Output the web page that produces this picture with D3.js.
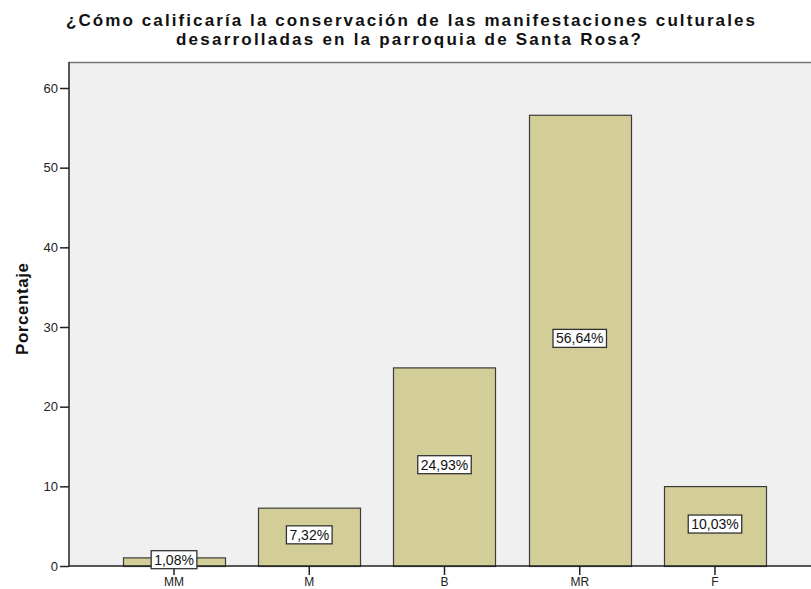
<!DOCTYPE html>
<html><head><meta charset="utf-8">
<script src="https://cdn.jsdelivr.net/npm/d3@7"></script>
<style>body{margin:0;background:#fff;}svg{display:block;font-family:"Liberation Sans",Arial,sans-serif;}</style>
</head><body>
<svg id="c" width="811" height="589"></svg>
<script>
const categories = ["MM","M","B","MR","F"];
const values = [1.08, 7.32, 24.93, 56.64, 10.03];
const valueLabels = ["1,08%","7,32%","24,93%","56,64%","10,03%"];
const yTicks = [0,10,20,30,40,50,60];
const titleLines = ["¿Cómo calificaría la conservación de las manifestaciones culturales","desarrolladas en la parroquia de Santa Rosa?"];
const yTitle = "Porcentaje";

const svg = d3.select("#c");
const plotL = 69, plotT = 62, plotR = 812, plotB = 566;
const x = d3.scaleBand().domain(categories).range([106.4, 782.6]).paddingInner(0.245).paddingOuter(0.1225);
const y = d3.scaleLinear().domain([0,60]).range([566, 88]);

svg.append("rect").attr("x",plotL).attr("y",plotT).attr("width",plotR-plotL).attr("height",plotB-plotT).attr("fill","#f0f0f0");
svg.append("line").attr("x1",plotL).attr("x2",plotR).attr("y1",plotT+0.5).attr("y2",plotT+0.5).attr("stroke","#777").attr("stroke-width",1.5);

// bars
svg.selectAll("rect.bar").data(values).enter().append("rect").attr("class","bar")
  .attr("x",(d,i)=>Math.round(x(categories[i]))+0.5)
  .attr("y",d=>y(d)+0.5)
  .attr("width",Math.round(x.bandwidth()))
  .attr("height",d=>y(0)-y(d))
  .attr("fill","#d3ce97").attr("stroke","#3c3c3c").attr("stroke-width",1.2);

// axes
const yAxis = d3.axisLeft(y).tickValues(yTicks).tickSize(9).tickPadding(2).tickFormat(d3.format("d"));
const gy = svg.append("g").attr("transform",`translate(${plotL},0)`).call(yAxis);
gy.select(".domain").attr("d",`M0,${plotT}V${plotB}`).attr("stroke","#222").attr("stroke-width",1.5);
gy.selectAll(".tick line").attr("stroke","#222").attr("stroke-width",1.5);
gy.selectAll(".tick text").attr("font-size",13).attr("fill","#222").attr("font-family","Liberation Sans, Arial, sans-serif");

const xAxis = d3.axisBottom(x).tickSize(9).tickPadding(0);
const gx = svg.append("g").attr("transform",`translate(0,${plotB})`).call(xAxis);
gx.select(".domain").attr("d",`M${plotL},0H${plotR}`).attr("stroke","#222").attr("stroke-width",1.5);
gx.selectAll(".tick line").attr("stroke","#222").attr("stroke-width",1.5);
gx.selectAll(".tick text").attr("font-size",12).attr("fill","#222").attr("dy",null).attr("y",20).attr("font-family","Liberation Sans, Arial, sans-serif");

// value labels
const lg = svg.selectAll("g.lbl").data(values).enter().append("g").attr("class","lbl")
  .attr("transform",(d,i)=>`translate(${x(categories[i])+x.bandwidth()/2},${(y(d)+y(0))/2 - 2})`);
lg.append("text").text((d,i)=>valueLabels[i]).attr("text-anchor","middle").attr("dy","0.36em")
  .attr("font-size",14).attr("fill","#111");
lg.each(function(){
  const g=d3.select(this); const t=g.select("text").node().getBBox();
  g.insert("rect","text").attr("x",t.x-3).attr("y",-9).attr("width",t.width+6).attr("height",18)
   .attr("fill","#fff").attr("stroke","#333").attr("stroke-width",1.3);
});

// titles
svg.append("text").attr("x",410.5).attr("y",25.5).attr("text-anchor","middle").attr("font-size",17).attr("font-weight","bold").attr("fill","#111")
  .attr("textLength",689).attr("lengthAdjust","spacing").text(titleLines[0]);
svg.append("text").attr("x",408.5).attr("y",45).attr("text-anchor","middle").attr("font-size",17).attr("font-weight","bold").attr("fill","#111")
  .attr("textLength",465).attr("lengthAdjust","spacing").text(titleLines[1]);
svg.append("text").attr("transform","translate(28,309) rotate(-90)").attr("text-anchor","middle").attr("font-size",17).attr("font-weight","bold").attr("fill","#111")
  .attr("textLength",92).attr("lengthAdjust","spacing").text(yTitle);
</script>
</body></html>
